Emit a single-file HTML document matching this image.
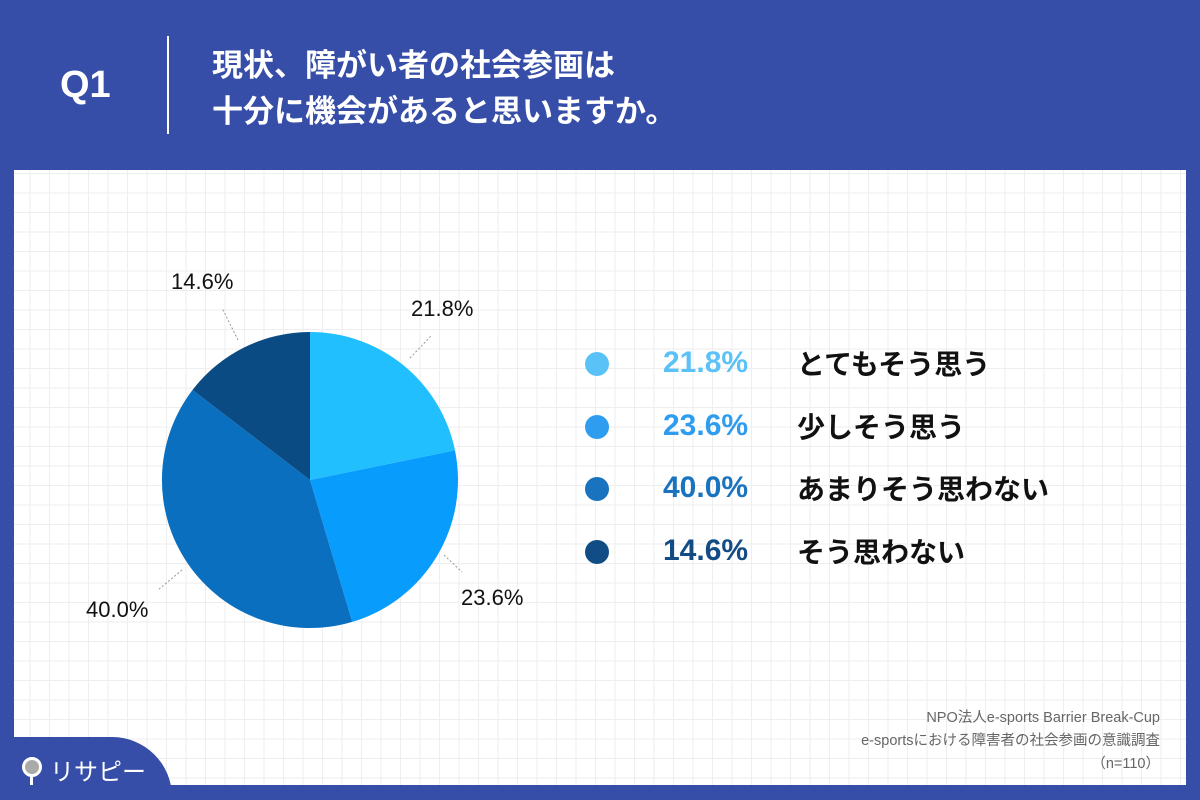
<!DOCTYPE html>
<html><head><meta charset="utf-8"><style>
html,body{margin:0;width:1200px;height:800px;overflow:hidden}
body{background:#364ea8;position:relative;font-family:"Liberation Sans","Noto Sans CJK JP",sans-serif}
.panel{position:absolute;left:14px;top:170px;width:1172px;height:615px;background-color:#fff;
background-image:linear-gradient(#eeeeee 1px,transparent 1px),linear-gradient(90deg,#eeeeee 1px,transparent 1px);background-size:19.5px 19.5px;background-position:-4px 3px}
.q{position:absolute;left:60px;top:64px;color:#fff;font-size:38px;font-weight:bold}
.sep{position:absolute;left:167px;top:36px;width:2px;height:98px;background:#fff}
.t{position:absolute;left:212px;top:40px;color:#fff;font-size:31px;font-weight:bold;line-height:46px;font-family:"Noto Sans CJK JP",sans-serif}
.lab{position:absolute;font-size:22px;color:#111}
.leg{position:absolute;left:585px;font-size:30px;font-weight:bold;height:40px;line-height:40px}
.dot{position:absolute;left:0;top:9px;width:24px;height:24px;border-radius:50%}
.pct{position:absolute;left:78px;font-family:"Liberation Sans",sans-serif}
.nm{position:absolute;left:212px;color:#111;white-space:nowrap;font-family:"Noto Sans CJK JP",sans-serif;font-size:28px}
.src{position:absolute;right:40px;top:707px;text-align:right;color:#666;font-size:14.5px;line-height:23px;font-family:"Liberation Sans","Noto Sans CJK JP",sans-serif}
.logo{position:absolute;left:0;top:737px;width:172px;height:70px;background:#364ea8;border-top-right-radius:60px}
</style></head><body>
<div class="q">Q1</div><div class="sep"></div>
<div class="t">現状、障がい者の社会参画は<br>十分に機会があると思いますか。</div>
<div class="panel"></div>
<svg style="position:absolute;left:0;top:0" width="1200" height="800">
<path d="M310 480 L310 332 A148 148 0 0 1 455 450.4Z" fill="#22bfff"/>
<path d="M310 480 L455 450.4 A148 148 0 0 1 352.2 621.9Z" fill="#089cfc"/>
<path d="M310 480 L352.2 621.9 A148 148 0 0 1 192.5 390Z" fill="#0a6fbf"/>
<path d="M310 480 L192.5 390 A148 148 0 0 1 310 332Z" fill="#0b4b84"/>
<g stroke="#999" stroke-dasharray="2,2" fill="none"><line x1="410" y1="358" x2="432" y2="335"/><line x1="444" y1="555" x2="462" y2="572"/><line x1="182" y1="570" x2="158" y2="590"/><line x1="238" y1="340" x2="222" y2="308"/></g>
</svg>
<div class="lab" style="left:171px;top:269px">14.6%</div>
<div class="lab" style="left:411px;top:296px">21.8%</div>
<div class="lab" style="left:461px;top:585px">23.6%</div>
<div class="lab" style="left:86px;top:597px">40.0%</div>
<div class="leg" style="top:343px"><div class="dot" style="background:#5bc2f7"></div><span class="pct" style="color:#5bc2f7">21.8%</span><span class="nm">とてもそう思う</span></div>
<div class="leg" style="top:406px"><div class="dot" style="background:#2e9df0"></div><span class="pct" style="color:#2e9df0">23.6%</span><span class="nm">少しそう思う</span></div>
<div class="leg" style="top:468px"><div class="dot" style="background:#1a73be"></div><span class="pct" style="color:#1a73be">40.0%</span><span class="nm">あまりそう思わない</span></div>
<div class="leg" style="top:531px"><div class="dot" style="background:#124c85"></div><span class="pct" style="color:#124c85">14.6%</span><span class="nm">そう思わない</span></div>
<div class="src">NPO法人e-sports Barrier Break-Cup<br>e-sportsにおける障害者の社会参画の意識調査<br>（n=110）</div>
<div class="logo"></div>
<div style="position:absolute;left:22px;top:757px;width:14px;height:14px;border:3px solid #fff;border-radius:50%;background:#aaa"></div>
<div style="position:absolute;left:30px;top:777px;width:3px;height:8px;background:#fff"></div>
<div style="position:absolute;left:50px;top:752px;color:#fff;font-size:24px;font-family:'Noto Sans CJK JP',sans-serif">リサピー</div>
</body></html>
